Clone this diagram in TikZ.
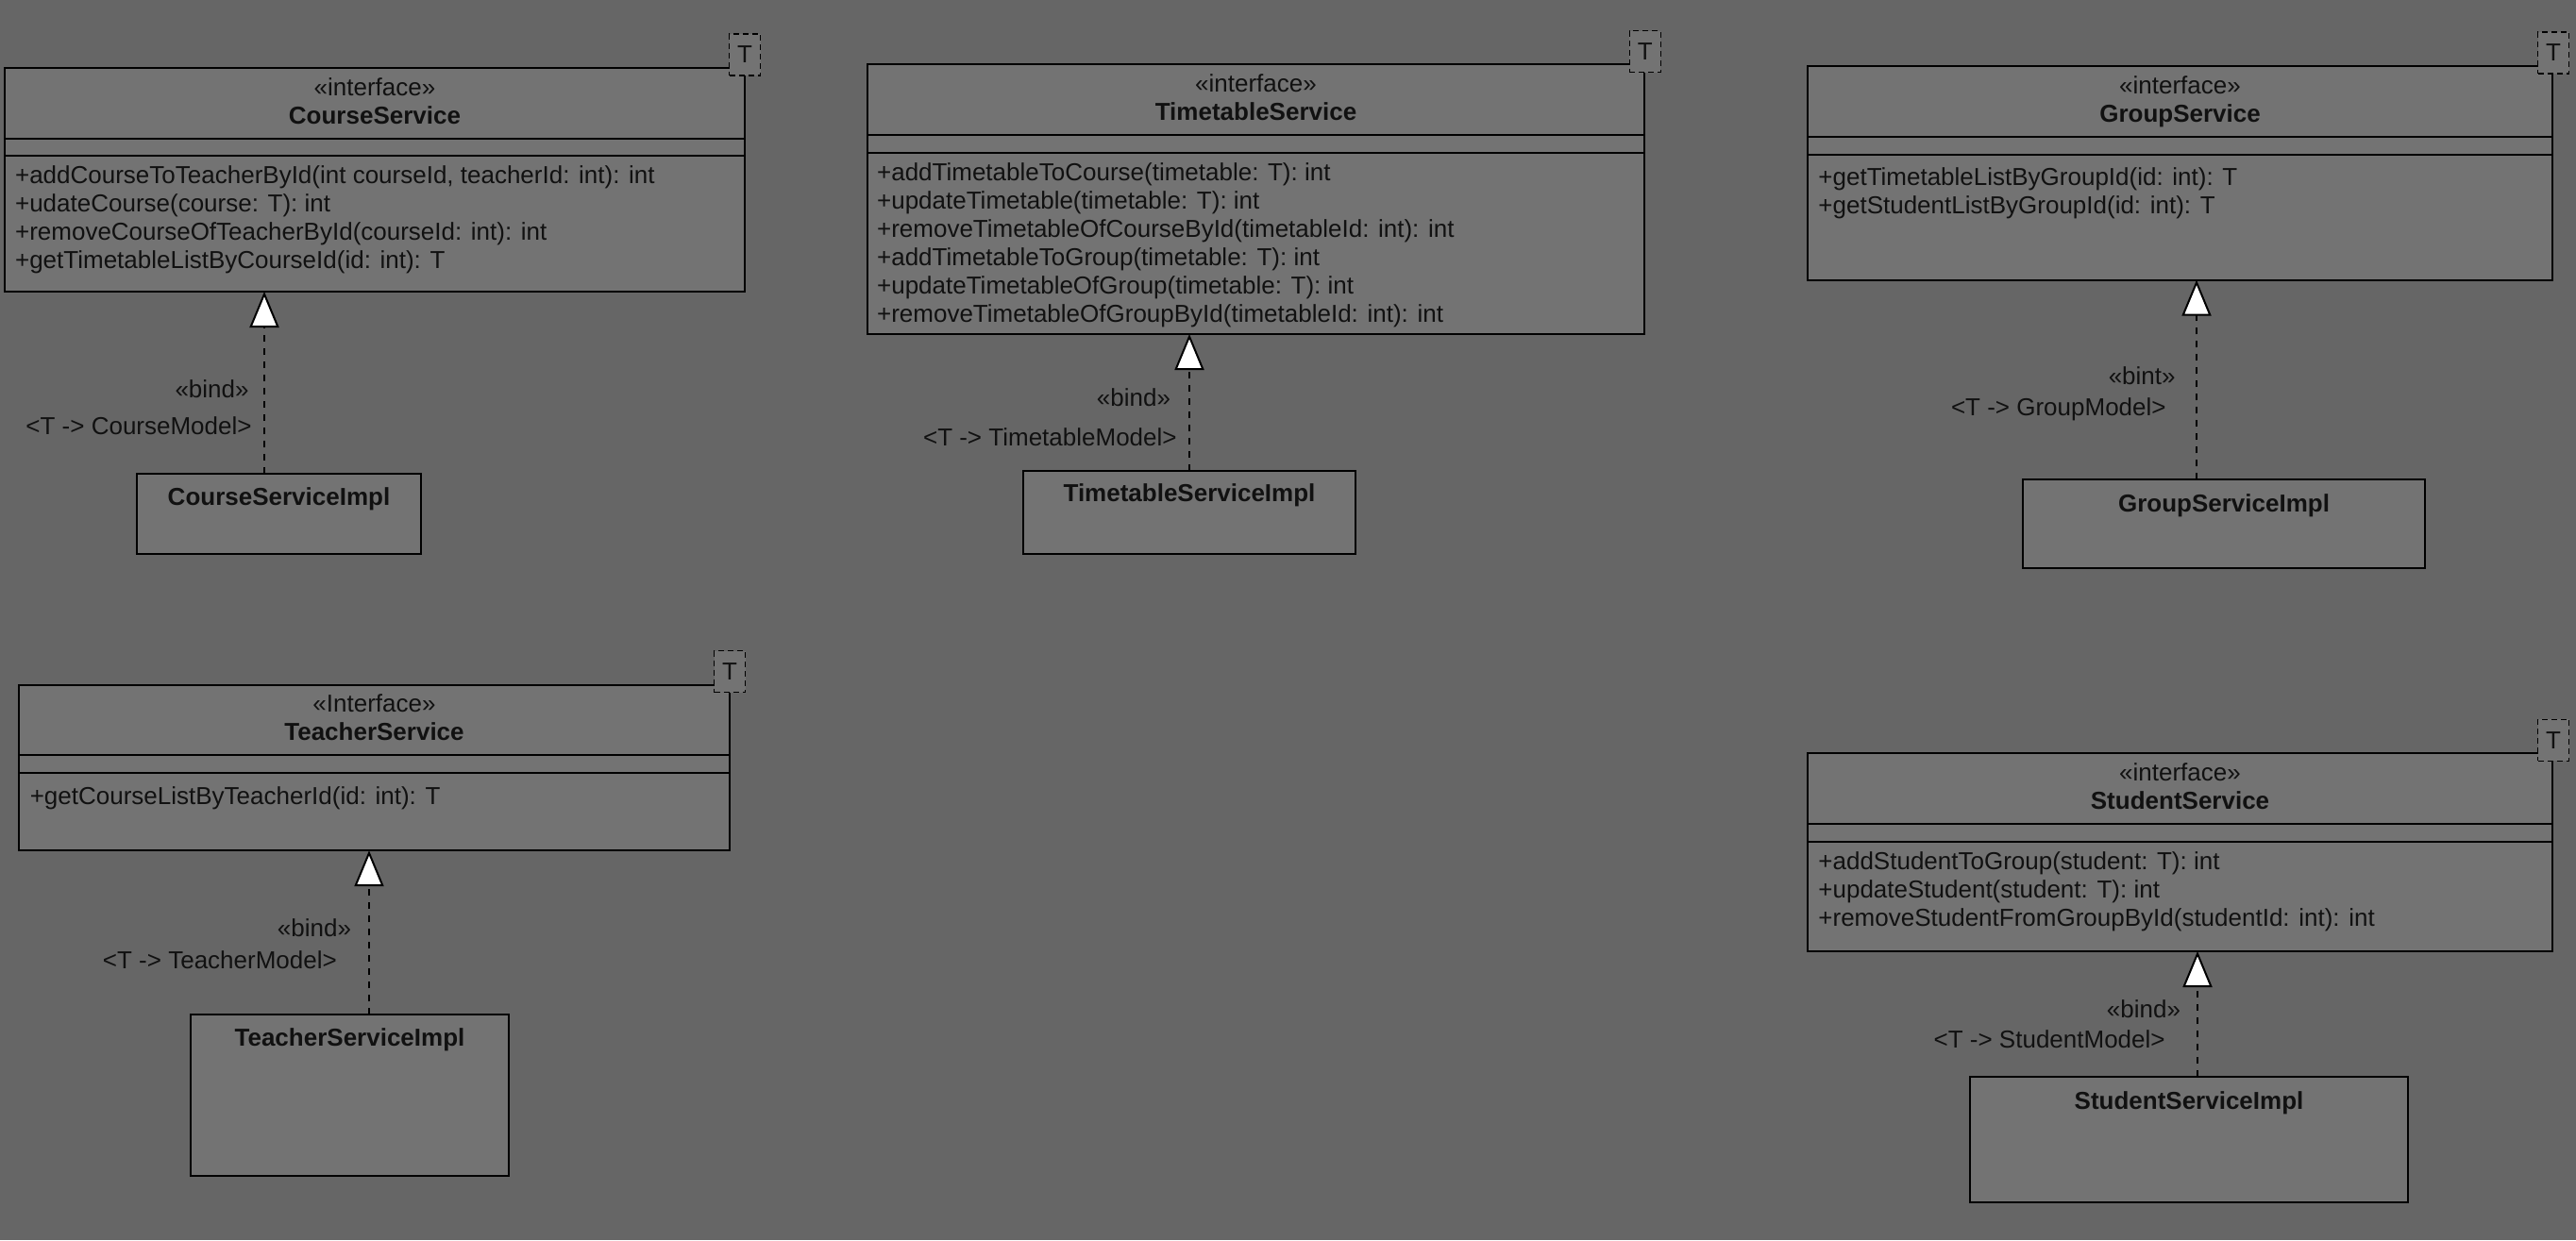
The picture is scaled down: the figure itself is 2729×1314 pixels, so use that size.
\documentclass[tikz,border=0pt]{standalone}
\usepackage{fontspec}
\setmainfont{Liberation Sans}
\usetikzlibrary{arrows.meta,fit}
\definecolor{canvas}{HTML}{666666}
\definecolor{boxfill}{HTML}{737373}
\definecolor{ink}{HTML}{111111}
\tikzset{
  umlbox/.style={draw=black, fill=boxfill, line width=1pt, inner sep=0pt, outer sep=0pt},
  tparam/.style={draw=black, fill=boxfill, dash pattern=on 3pt off 2pt, line width=0.8pt,
    minimum width=16.5pt, minimum height=22pt, inner sep=0pt, outer sep=0pt,
    font=\fontsize{13}{15}\selectfont, text=ink},
  txt/.style={inner sep=0pt, yshift=-1.75pt, font=\fontsize{13}{15}\selectfont, text=ink},
  stereo/.style={txt, anchor=mid},
  cname/.style={txt, anchor=mid, font=\fontsize{13}{15}\selectfont\bfseries},
  meth/.style={txt, anchor=mid west},
  lbl/.style={txt, anchor=mid east},
  divider/.style={draw=black, line width=1pt},
  realize/.style={draw=black, line width=1pt, dash pattern=on 3.5pt off 3.5pt,
    -{Triangle[length=19pt, width=15.5pt, fill=white]}},
}
\begin{document}
\begin{tikzpicture}[x=0.5pt, y=-0.5pt]
\fill[canvas] (0,0) rectangle (2729,1314);
\useasboundingbox (0,0) rectangle (2729,1314);

% ---------- CourseService ----------
\node[umlbox, fit={(5,72) (789,309)}] (cs) {};
\draw[divider] (5,147) -- (789,147);
\draw[divider] (5,165) -- (789,165);
\node[tparam] (cs-t) at (789,58) {T};
\node[stereo] (cs-s) at (397,93) {«interface»};
\node[cname] (cs-n) at (397,123) {CourseService};
\node[meth] (cs-m1) at (15.7,185.7) {+addCourseToTeacherById(int courseId, teacherId: int): int};
\node[meth] (cs-m2) at (15.7,215.7) {+udateCourse(course: T): int};
\node[meth] (cs-m3) at (15.7,245.7) {+removeCourseOfTeacherById(courseId: int): int};
\node[meth] (cs-m4) at (15.7,275.7) {+getTimetableListByCourseId(id: int): T};

\node[umlbox, fit={(145,502) (446,587)}] (csi) {};
\node[cname] (csi-n) at (295.5,527) {CourseServiceImpl};
\coordinate (cs-ax) at (280,0);
\draw[realize] (csi.north -| cs-ax) -- (cs.south -| cs-ax);
\node[lbl] (cs-b) at (264,413) {«bind»};
\node[lbl] (cs-p) at (267,452) {<T -> CourseModel>};

% ---------- TimetableService ----------
\node[umlbox, fit={(919,68) (1742,354)}] (ts) {};
\draw[divider] (919,143.3) -- (1742,143.3);
\draw[divider] (919,162) -- (1742,162);
\node[tparam] (ts-t) at (1742.8,54.5) {T};
\node[stereo] (ts-s) at (1330.5,89) {«interface»};
\node[cname] (ts-n) at (1330.5,119) {TimetableService};
\node[meth] (ts-m1) at (928.7,182.7) {+addTimetableToCourse(timetable: T): int};
\node[meth] (ts-m2) at (928.7,212.7) {+updateTimetable(timetable: T): int};
\node[meth] (ts-m3) at (928.7,242.7) {+removeTimetableOfCourseById(timetableId: int): int};
\node[meth] (ts-m4) at (928.7,272.7) {+addTimetableToGroup(timetable: T): int};
\node[meth] (ts-m5) at (928.7,302.7) {+updateTimetableOfGroup(timetable: T): int};
\node[meth] (ts-m6) at (928.7,332.7) {+removeTimetableOfGroupById(timetableId: int): int};

\node[umlbox, fit={(1084,499) (1436,587)}] (tsi) {};
\node[cname] (tsi-n) at (1260,522.7) {TimetableServiceImpl};
\coordinate (ts-ax) at (1260,0);
\draw[realize] (tsi.north -| ts-ax) -- (ts.south -| ts-ax);
\node[lbl] (ts-b) at (1240.4,421.7) {«bind»};
\node[lbl] (ts-p) at (1247,464) {<T -> TimetableModel>};

% ---------- GroupService ----------
\node[umlbox, fit={(1915,70.3) (2704,296.7)}] (gs) {};
\draw[divider] (1915,145) -- (2704,145);
\draw[divider] (1915,164) -- (2704,164);
\node[tparam] (gs-t) at (2705,56) {T};
\node[stereo] (gs-s) at (2309.5,90.7) {«interface»};
\node[cname] (gs-n) at (2309.5,120.7) {GroupService};
\node[meth] (gs-m1) at (1926,187.7) {+getTimetableListByGroupId(id: int): T};
\node[meth] (gs-m2) at (1926,217.7) {+getStudentListByGroupId(id: int): T};

\node[umlbox, fit={(2143,508.3) (2569,601.7)}] (gsi) {};
\node[cname] (gsi-n) at (2356,533.3) {GroupServiceImpl};
\coordinate (gs-ax) at (2327,0);
\draw[realize] (gsi.north -| gs-ax) -- (gs.south -| gs-ax);
\node[lbl] (gs-b) at (2305,398.3) {«bint»};
\node[lbl] (gs-p) at (2295,431.7) {<T -> GroupModel>};

% ---------- TeacherService ----------
\node[umlbox, fit={(20,725.5) (773,901.2)}] (ths) {};
\draw[divider] (20,800.2) -- (773,800.2);
\draw[divider] (20,818.7) -- (773,818.7);
\node[tparam] (ths-t) at (773,711.5) {T};
\node[stereo] (ths-s) at (396.5,746) {«Interface»};
\node[cname] (ths-n) at (396.5,775.4) {TeacherService};
\node[meth] (ths-m1) at (31.4,844) {+getCourseListByTeacherId(id: int): T};

\node[umlbox, fit={(202,1075) (539,1246)}] (thi) {};
\node[cname] (thi-n) at (370.5,1100) {TeacherServiceImpl};
\coordinate (ths-ax) at (391,0);
\draw[realize] (thi.north -| ths-ax) -- (ths.south -| ths-ax);
\node[lbl] (ths-b) at (372.4,984) {«bind»};
\node[lbl] (ths-p) at (357.2,1017.4) {<T -> TeacherModel>};

% ---------- StudentService ----------
\node[umlbox, fit={(1915,798) (2704,1008)}] (ss) {};
\draw[divider] (1915,873.3) -- (2704,873.3);
\draw[divider] (1915,891.5) -- (2704,891.5);
\node[tparam] (ss-t) at (2705,784.3) {T};
\node[stereo] (ss-s) at (2309.5,819) {«interface»};
\node[cname] (ss-n) at (2309.5,848.7) {StudentService};
\node[meth] (ss-m1) at (1926,912.6) {+addStudentToGroup(student: T): int};
\node[meth] (ss-m2) at (1926,942.6) {+updateStudent(student: T): int};
\node[meth] (ss-m3) at (1926,972.6) {+removeStudentFromGroupById(studentId: int): int};

\node[umlbox, fit={(2087,1140.6) (2551.4,1273.8)}] (ssi) {};
\node[cname] (ssi-n) at (2319,1166.2) {StudentServiceImpl};
\coordinate (ss-ax) at (2328,0);
\draw[realize] (ssi.north -| ss-ax) -- (ss.south -| ss-ax);
\node[lbl] (ss-b) at (2310.4,1069.7) {«bind»};
\node[lbl] (ss-p) at (2294,1101.3) {<T -> StudentModel>};
\end{tikzpicture}
\end{document}
